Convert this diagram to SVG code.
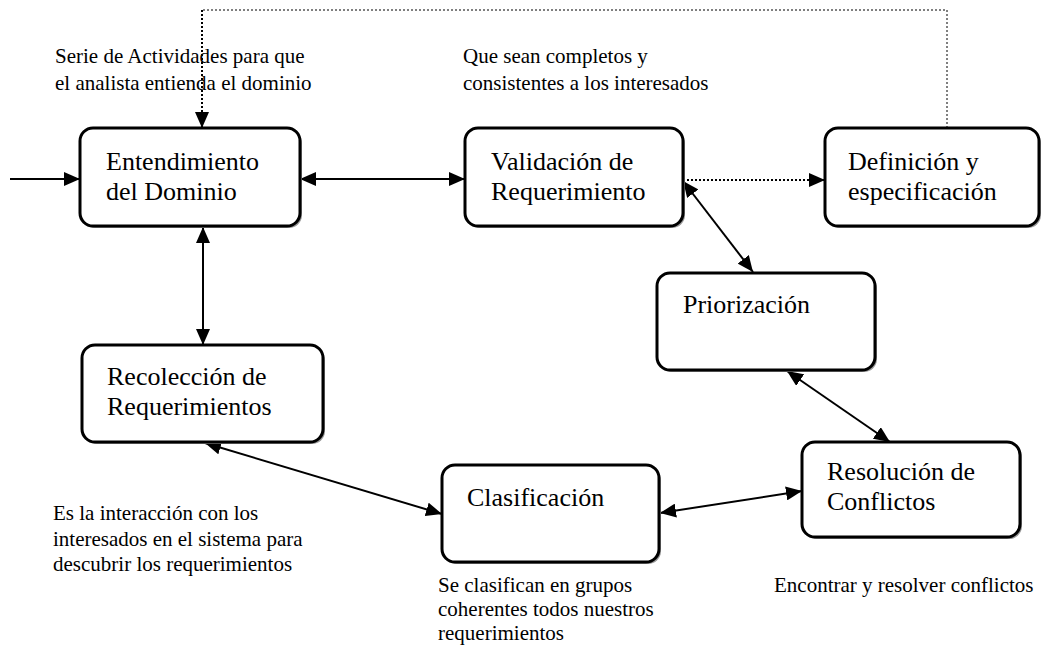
<svg xmlns="http://www.w3.org/2000/svg" width="1042" height="645" viewBox="0 0 1042 645">
<style>
.box{fill:#fff;stroke:#000;stroke-width:3}
.shadow{fill:#999;stroke:none}
.nt{font-family:"Liberation Serif","Times New Roman",serif;font-size:26px;fill:#000}
.at{font-family:"Liberation Serif","Times New Roman",serif;font-size:21px;fill:#000}
.ln{fill:none;stroke:#000;stroke-width:2}
.dot{fill:none;stroke:#000;stroke-width:2;stroke-dasharray:2 2}
.dotthin{fill:none;stroke:#000;stroke-width:1;stroke-dasharray:2 2}
</style>
<defs>
<marker id="ah" markerUnits="userSpaceOnUse" markerWidth="16" markerHeight="14" viewBox="0 0 16 14" refX="16" refY="7" orient="auto-start-reverse">
<path d="M0,0 L16,7 L0,14 Z" fill="#000"/>
</marker>
</defs>
<rect width="1042" height="645" fill="#fff"/>
<g id="connectors">
<path class="dotthin" d="M947,128 V10 H202"/>
<path class="dot" d="M202,10 V128" marker-end="url(#ah)"/>
<path class="ln" d="M10,179 H80" marker-end="url(#ah)"/>
<path class="ln" d="M300,179 H465" marker-start="url(#ah)" marker-end="url(#ah)"/>
<path class="dot" d="M683,180 H825" marker-end="url(#ah)"/>
<path class="ln" d="M203,227 V345" marker-start="url(#ah)" marker-end="url(#ah)"/>
<path class="ln" d="M683,181 L753,272" marker-start="url(#ah)" marker-end="url(#ah)"/>
<path class="ln" d="M787,371 L890,442" marker-start="url(#ah)" marker-end="url(#ah)"/>
<path class="ln" d="M205,443 L442,514" marker-start="url(#ah)" marker-end="url(#ah)"/>
<path class="ln" d="M660,513 L802,491" marker-start="url(#ah)" marker-end="url(#ah)"/>
</g>
<g id="entendimiento">
<rect class="shadow" x="82" y="130" width="220" height="98" rx="13"/>
<rect class="box" x="80" y="128" width="220" height="98" rx="13"/>
<text class="nt" x="106" y="170">Entendimiento</text>
<text class="nt" x="106" y="200">del Dominio</text>
</g>
<g id="validacion">
<rect class="shadow" x="467" y="130" width="218" height="98" rx="13"/>
<rect class="box" x="465" y="128" width="218" height="98" rx="13"/>
<text class="nt" x="491" y="170">Validación de</text>
<text class="nt" x="491" y="200">Requerimiento</text>
</g>
<g id="definicion">
<rect class="shadow" x="827" y="130" width="214" height="98" rx="13"/>
<rect class="box" x="825" y="128" width="214" height="98" rx="13"/>
<text class="nt" x="848" y="170">Definición y</text>
<text class="nt" x="848" y="200">especificación</text>
</g>
<g id="priorizacion">
<rect class="shadow" x="659" y="275" width="218" height="97" rx="13"/>
<rect class="box" x="657" y="273" width="218" height="97" rx="13"/>
<text class="nt" x="683" y="313">Priorización</text>
</g>
<g id="recoleccion">
<rect class="shadow" x="84" y="347" width="241" height="97" rx="13"/>
<rect class="box" x="82" y="345" width="241" height="97" rx="13"/>
<text class="nt" x="107" y="385">Recolección de</text>
<text class="nt" x="107" y="415">Requerimientos</text>
</g>
<g id="clasificacion">
<rect class="shadow" x="444" y="467" width="217" height="97" rx="13"/>
<rect class="box" x="442" y="465" width="217" height="97" rx="13"/>
<text class="nt" x="467" y="506">Clasificación</text>
</g>
<g id="resolucion">
<rect class="shadow" x="804" y="444" width="218" height="95" rx="13"/>
<rect class="box" x="802" y="442" width="218" height="95" rx="13"/>
<text class="nt" x="827" y="480">Resolución de</text>
<text class="nt" x="827" y="510">Conflictos</text>
</g>
<g id="annotations">
<text class="at" x="55" y="63">Serie de Actividades para que</text>
<text class="at" x="55" y="90">el analista entienda el dominio</text>
<text class="at" x="463" y="63">Que sean completos y</text>
<text class="at" x="463" y="90">consistentes a los interesados</text>
<text class="at" x="53" y="520">Es la interacción con los</text>
<text class="at" x="53" y="546">interesados en el sistema para</text>
<text class="at" x="53" y="571">descubrir los requerimientos</text>
<text class="at" x="438" y="592">Se clasifican en grupos</text>
<text class="at" x="438" y="616">coherentes todos nuestros</text>
<text class="at" x="438" y="640">requerimientos</text>
<text class="at" x="774" y="592">Encontrar y resolver conflictos</text>
</g>
</svg>
